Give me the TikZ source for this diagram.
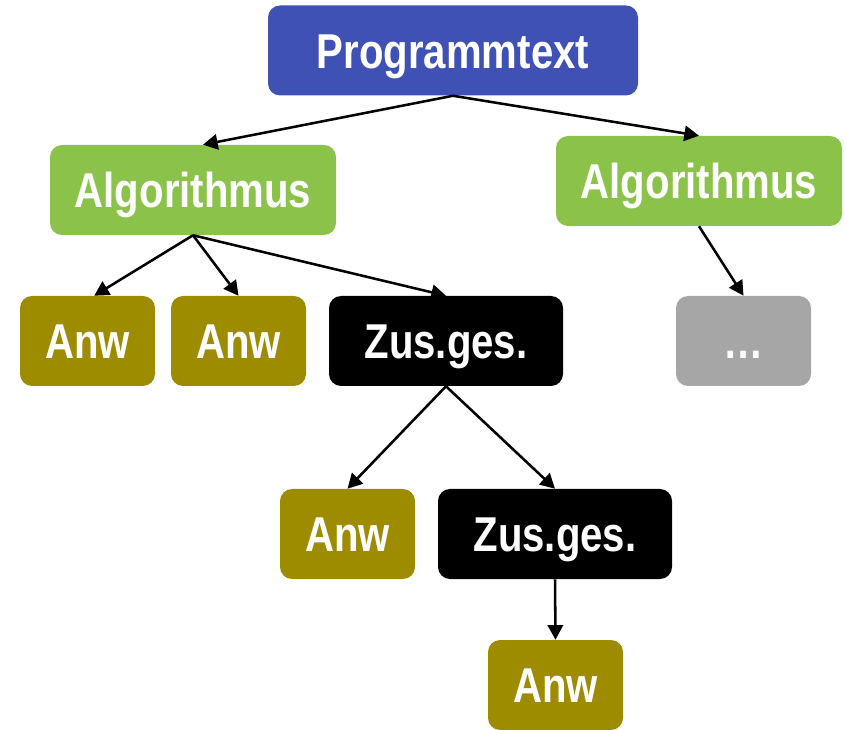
\documentclass[tikz,border=0pt]{standalone}
\usepackage{fontspec}
\setmainfont{Liberation Sans}[FakeStretch=0.82]
\usepackage{xcolor}
\usetikzlibrary{arrows.meta}

\definecolor{progblue}{HTML}{3F51B5}
\definecolor{alggreen}{HTML}{8BC34A}
\definecolor{anwolive}{HTML}{9E8C00}
\definecolor{restgray}{HTML}{A6A6A6}

\tikzset{
  box/.style={rounded corners=9pt, inner sep=0pt, minimum height=67.5pt,
    text height=26.3pt, text depth=0pt,
    text=white, font=\fontsize{36.7}{44}\selectfont\bfseries},
  prog/.style={box, fill=progblue, minimum width=277.5pt},
  alg/.style={box, fill=alggreen, minimum width=214.5pt},
  anw/.style={box, fill=anwolive, minimum width=101.25pt},
  zus/.style={box, fill=black, minimum width=175.5pt},
  rest/.style={box, fill=restgray, minimum width=101.25pt},
  edge/.style={line width=1.9pt, -{Triangle[length=11pt,width=11.5pt]}}
}

\begin{document}
\begin{tikzpicture}[x=0.75pt, y=-0.75pt]
\useasboundingbox (0,0) rectangle (846,730);

\node[prog] (prog) at (453, 50.5) {Programmtext};
\node[alg] (alg1) at (193, 190) {Algorithmus};
\node[alg] (alg2) at (699, 181) {Algorithmus};
\node[anw] (anw1) at (87.5, 341) {Anw};
\node[anw] (anw2) at (238.5, 341) {Anw};
\node[zus] (zus1) at (446, 341) {Zus.ges.};
\node[rest] (rest) at (743.5, 341) {…};
\node[anw] (anw3) at (347.5, 534) {Anw};
\node[zus] (zus2) at (555, 534) {Zus.ges.};
\node[anw] (anw4) at (555.5, 685) {Anw};

\draw[edge] (prog.south) -- ([xshift=7.5pt]alg1.north);
\draw[edge] (prog.south) -- (alg2.north);
\draw[edge] (alg1.south) -- ([xshift=5pt]anw1.north);
\draw[edge] (alg1.south) -- (anw2.north);
\draw[edge] (alg1.south) -- (zus1.north);
\draw[edge] (alg2.south) -- (rest.north);
\draw[edge] (zus1.south) -- (anw3.north);
\draw[edge] (zus1.south) -- (zus2.north);
\draw[edge] (zus2.south) -- (anw4.north);
\end{tikzpicture}
\end{document}
